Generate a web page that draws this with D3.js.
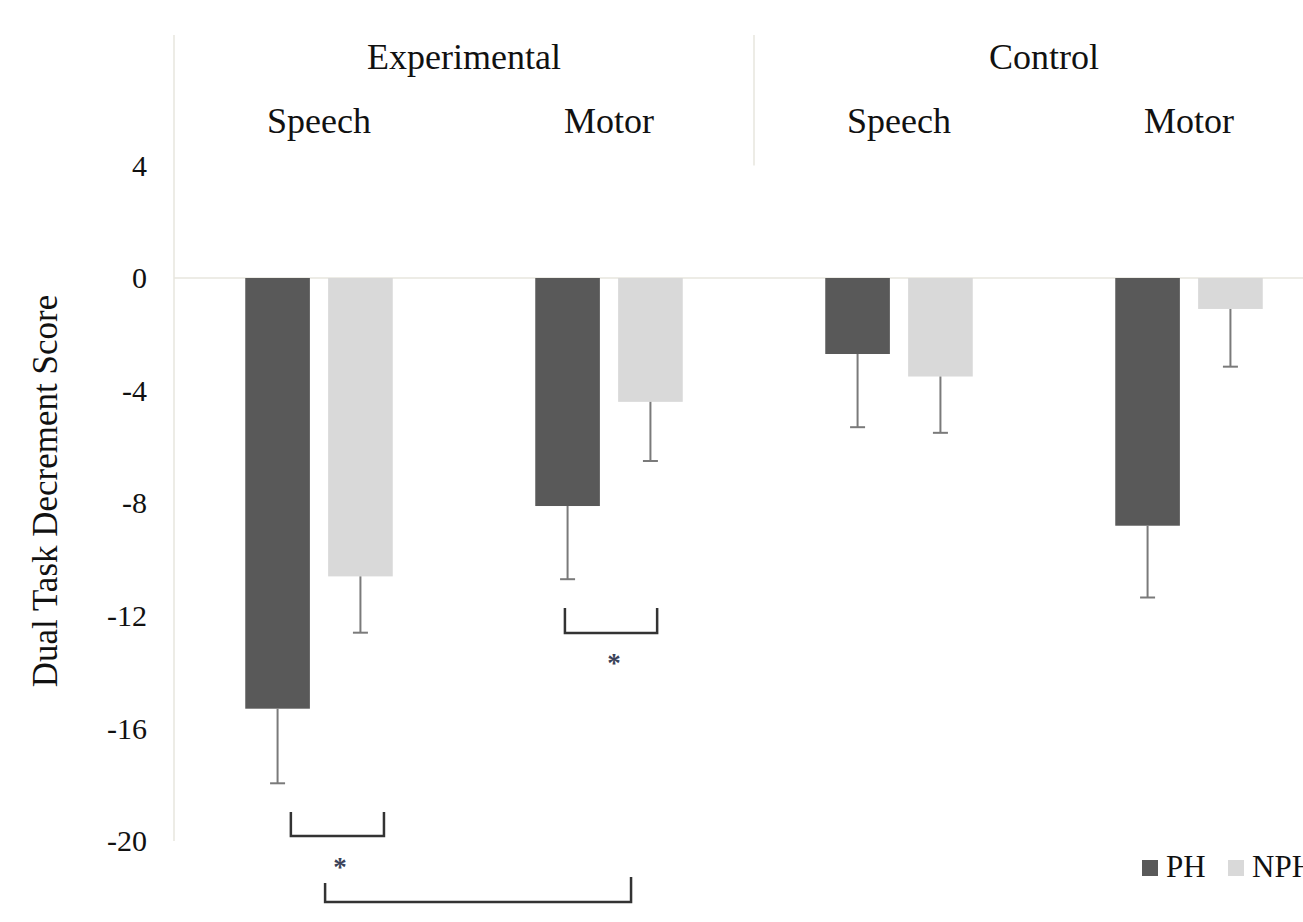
<!DOCTYPE html>
<html>
<head>
<meta charset="utf-8">
<script src="https://cdn.jsdelivr.net/npm/d3@7"></script>
<style>
  body { margin: 0; background: #fff; }
  svg { display: block; overflow: hidden; }
  text { font-family: "Liberation Serif", "Times New Roman", serif; fill: #111; }
</style>
</head>
<body>
<div id="chart"></div>
<script>
// groups / tasks along the x axis
const groups = ["Experimental", "Control"]
const tasks = ["Speech", "Motor"]
const categories = ["Experimental Speech", "Experimental Motor", "Control Speech", "Control Motor"]
const series = ["PH", "NPH"]

// mean dual task decrement scores
const phMeans = [-15.3, -8.1, -2.7, -8.8]
const nphMeans = [-10.6, -4.4, -3.5, -1.1]
// error bar lengths (downward)
const phErrors = [2.65, 2.6, 2.6, 2.55]
const nphErrors = [2.0, 2.1, 2.0, 2.05]

const yTicks = [4, 0, -4, -8, -12, -16, -20]

// significance brackets, x in category units, y in score units
const brackets = [
    {x1: 0.403, x2: 0.724, yTop1: -18.97, yTop2: -18.97, yBottom: -19.82, starX: 0.572, starY: -20.75},
    {x1: 1.348, x2: 1.666, yTop1: -11.72, yTop2: -11.72, yBottom: -12.61, starX: 1.517, starY: -13.5},
    {x1: 0.521, x2: 1.576, yTop1: -21.49, yTop2: -21.28, yBottom: -22.17, starX: null, starY: null}
]

const colours = {PH: "#595959", NPH: "#d9d9d9"}

const width = 1303, height = 922
const margin = {top: 35, left: 174}
const plotRight = 1334 // the picture is cut off on the right

const svg = d3.select("#chart").append("svg")
    .attr("width", width)
    .attr("height", height)

const x0 = d3.scaleBand()
    .domain(categories)
    .range([margin.left, plotRight])
    .padding(0)

const x1 = d3.scaleBand()
    .domain(series)
    .range([0, x0.bandwidth()])
    .paddingInner(0.22)
    .paddingOuter(0.86)

const xIdx = d3.scaleLinear()
    .domain([0, categories.length])
    .range([margin.left, plotRight])

const y = d3.scaleLinear()
    .domain([4, -20])
    .range([165.4, 841])

const gridColour = "#e7e6de"

// left frame line and the divider between groups in the header
svg.append("line")
    .attr("x1", margin.left).attr("x2", margin.left)
    .attr("y1", margin.top).attr("y2", y(-20))
    .attr("stroke", gridColour).attr("stroke-width", 1.5)

svg.append("line")
    .attr("x1", xIdx(2)).attr("x2", xIdx(2))
    .attr("y1", margin.top).attr("y2", y(4))
    .attr("stroke", gridColour).attr("stroke-width", 1.5)

// zero line
svg.append("line")
    .attr("x1", margin.left).attr("x2", width)
    .attr("y1", y(0)).attr("y2", y(0))
    .attr("stroke", gridColour).attr("stroke-width", 1.5)

// y axis labels
const yAxis = svg.append("g")
    .attr("transform", `translate(${margin.left},0)`)
    .call(d3.axisLeft(y).tickValues(yTicks).tickSize(0).tickPadding(27).tickFormat(d3.format("d")))
yAxis.select(".domain").remove()
yAxis.selectAll("text")
    .style("font-family", '"Liberation Serif", "Times New Roman", serif')
    .style("font-size", "30px")
    .attr("fill", "#111")
    .text(d => d < 0 ? "-" + Math.abs(d) : d)

svg.append("text")
    .attr("transform", `translate(57, 491) rotate(-90)`)
    .attr("text-anchor", "middle")
    .style("font-size", "35px")
    .text("Dual Task Decrement Score")

// group headers
groups.forEach((g, i) => {
    svg.append("text")
        .attr("x", xIdx(i * 2 + 1))
        .attr("y", 69)
        .attr("text-anchor", "middle")
        .style("font-size", "36px")
        .text(g)
})
categories.forEach((c, i) => {
    svg.append("text")
        .attr("x", x0(c) + x0.bandwidth() / 2)
        .attr("y", 133)
        .attr("text-anchor", "middle")
        .style("font-size", "36px")
        .text(tasks[i % 2])
})

// bars
const rows = []
categories.forEach((c, i) => {
    rows.push({cat: c, s: "PH", v: phMeans[i], e: phErrors[i]})
    rows.push({cat: c, s: "NPH", v: nphMeans[i], e: nphErrors[i]})
})

svg.append("g").selectAll("rect")
    .data(rows)
    .join("rect")
    .attr("x", d => x0(d.cat) + x1(d.s))
    .attr("width", x1.bandwidth())
    .attr("y", d => y(Math.max(0, d.v)))
    .attr("height", d => Math.abs(y(d.v) - y(0)))
    .attr("fill", d => colours[d.s])

// error bars
const errG = svg.append("g").attr("stroke", "#7a7a7a").attr("stroke-width", 2)
const cx = d => x0(d.cat) + x1(d.s) + x1.bandwidth() / 2
errG.selectAll(".stem")
    .data(rows)
    .join("line")
    .attr("class", "stem")
    .attr("x1", cx).attr("x2", cx)
    .attr("y1", d => y(d.v)).attr("y2", d => y(d.v - d.e))
errG.selectAll(".cap")
    .data(rows)
    .join("line")
    .attr("class", "cap")
    .attr("x1", d => cx(d) - 7.5).attr("x2", d => cx(d) + 7.5)
    .attr("y1", d => y(d.v - d.e)).attr("y2", d => y(d.v - d.e))

// significance brackets
svg.append("g").selectAll("path")
    .data(brackets)
    .join("path")
    .attr("fill", "none")
    .attr("stroke", "#333")
    .attr("stroke-width", 2.5)
    .attr("d", d => `M${xIdx(d.x1)},${y(d.yTop1)}V${y(d.yBottom)}H${xIdx(d.x2)}V${y(d.yTop2)}`)

svg.append("g").selectAll("text")
    .data(brackets.filter(d => d.starX !== null))
    .join("text")
    .attr("x", d => xIdx(d.starX))
    .attr("y", d => y(d.starY))
    .attr("dy", "0.5em")
    .attr("text-anchor", "middle")
    .style("font-size", "27px")
    .style("font-weight", "bold")
    .style("fill", "#3a4258")
    .text("*")

// legend
const legend = svg.append("g").attr("transform", "translate(1142, 860)")
const legendX = [0, 86]
series.forEach((s, i) => {
    legend.append("rect")
        .attr("x", legendX[i]).attr("y", 0)
        .attr("width", 16).attr("height", 16)
        .attr("fill", colours[s])
    legend.append("text")
        .attr("x", legendX[i] + 24).attr("y", 17)
        .style("font-size", "31px")
        .text(s)
})
</script>
</body>
</html>
